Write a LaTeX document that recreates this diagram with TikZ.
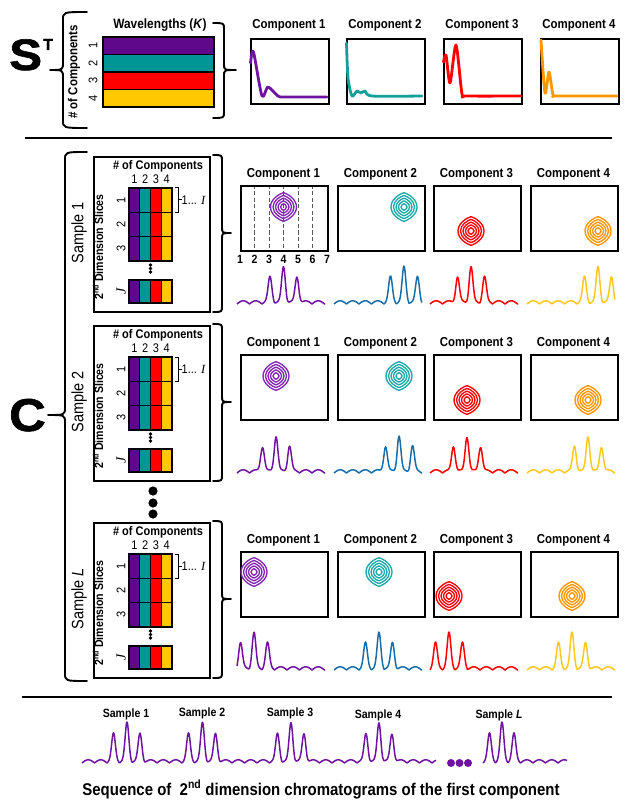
\documentclass[tikz,border=0pt]{standalone}
\usepackage{fontspec}
\setmainfont{Liberation Sans}[FakeStretch=0.88]
\newfontfamily\heavyfont{Liberation Sans Bold}[FakeBold=1.4]
\newfontfamily\seriffont{Liberation Serif}
\newcommand{\fs}[1]{\fontsize{#1}{#1}\selectfont}
\definecolor{cpurple}{RGB}{96,8,140}
\definecolor{cteal}{RGB}{0,150,150}
\definecolor{cred}{RGB}{255,0,0}
\definecolor{cyellow}{RGB}{255,200,0}
\definecolor{corange}{RGB}{255,150,0}
\definecolor{lpurple}{RGB}{110,20,160}
\definecolor{lblue}{RGB}{25,110,170}
\definecolor{lyellow}{RGB}{255,200,30}
\definecolor{kpurple}{RGB}{130,40,180}
\definecolor{kteal}{RGB}{30,170,170}
\definecolor{steal}{RGB}{20,160,150}

\newcommand\vbrace[7]{% xe, xb, xt, ytop, ybot, ymid, r
 \draw[braceline] ({#1},{#4}) .. controls ({#2},{#4}) .. ({#2},{#4+#7}) -- ({#2},{#6-#7}) .. controls ({#2},{#6}) .. ({#3},{#6}) .. controls ({#2},{#6}) .. ({#2},{#6+#7}) -- ({#2},{#5-#7}) .. controls ({#2},{#5}) .. ({#1},{#5});}

\newcommand\onion[3]{\begin{scope}[shift={(#2,#3)}]
 \foreach \rad in {13,10.5,8,5.5,3}{\draw[#1,line width=1.35pt] (0,{-1.1*\rad}) .. controls ({0.3*\rad},{-1.02*\rad}) and ({\rad},{-0.62*\rad}) .. (\rad,0) .. controls ({\rad},{0.62*\rad}) and ({0.3*\rad},{1.02*\rad}) .. (0,{1.1*\rad}) .. controls ({-0.3*\rad},{1.02*\rad}) and ({-\rad},{0.62*\rad}) .. ({-\rad},0) .. controls ({-\rad},{-0.62*\rad}) and ({-0.3*\rad},{-1.02*\rad}) .. cycle;}
\end{scope}}

\newcommand\chrom[5]{\draw[chromline,#1] plot[domain=#2:#3,samples=170] (\x,{#4-wg(\x,#2)-pk(\x,#5-13.5,25)-pk(\x,#5,35)-pk(\x,#5+13.5,25)});}

\newcommand\comprow[8]{%
 \foreach \ci/\lx/\cx/\cy/\kc/\lc in {1/240/#3/#7/kpurple/lpurple,2/337/#4/#7/kteal/lblue,3/433/#5/#8/cred/cred,4/530/#6/#8/corange/lyellow}{%
  \pgfmathsetmacro\xa{\lx-3}\pgfmathsetmacro\xb{\lx+85}\pgfmathsetmacro\xm{\lx+\cx}%
  \pgfmathsetmacro\yb{#2+29}\pgfmathsetmacro\yc{#2+29+\cy}\pgfmathsetmacro\ybase{#2+148}%
  \pgfmathsetmacro\xt{\lx+43.5}\pgfmathsetmacro\yt{#2+18}%
  \node[cbox] (#1c\ci) at (\lx,\yb) {};
  \node[ctitle] (#1t\ci) at (\xt,\yt) {Component \ci};
  \onion{\kc}{\xm}{\yc}
  \chrom{\lc}{\xa}{\xb}{\ybase}{\xm}
 }}

\newcommand\sampleblock[3]{%
 \node[sbox] (#1box) at (93,#2) {};
 \node[hdr] (#1hdr) at (158,{#2+10}) {\# of Components};
 \foreach \c/\col [count=\n] in {0/cpurple,1/cteal,2/cred,3/cyellow}{
   \node[numlab] (#1n\n) at ({134.4+10.75*\c},{#2+23.5}) {\n};
   \foreach \rw in {0,1,2}{\draw[cellline,fill=\col] ({129+10.75*\c},{#2+32+24.33*\rw}) rectangle ++(10.75,24.33);}
   \draw[cellline,fill=\col] ({129+10.75*\c},{#2+124}) rectangle ++(10.75,23);
 }
 \draw[line width=1.6pt] (129,{#2+32}) rectangle (172,{#2+105});
 \draw[line width=1.6pt] (129,{#2+124}) rectangle (172,{#2+147});
 \foreach \rw [count=\n] in {0,1,2}{\node[rowlab] (#1r\n) at (121,{#2+44+24.33*\rw}) {\n};}
 \foreach \dy in {109,112.5,116}{\fill (150.5,{#2+\dy}) circle[radius=1.9pt];}
 \node[rowlab,font=\fs{14}\seriffont\itshape] (#1J) at (121,{#2+135.5}) {J};
 \node[dimlab] (#1dim) at (98,{#2+91}) {2\textsuperscript{nd} Dimension Slices};
 \draw[line width=1pt] (175,{#2+32}) -- (178.5,{#2+32}) -- (178.5,{#2+56.3}) -- (175,{#2+56.3}) (178.5,{#2+44}) -- (182,{#2+44});
 \node[numlab,anchor=west] (#1rng) at (181.5,{#2+44}) {1... {\seriffont\itshape I}};
 \node[samplab] (#1lab) at (79,{#2+77}) {#3};
 \vbrace{213}{222}{231}{#2-1}{#2+156}{#2+77}{6}
}

\begin{document}
\begin{tikzpicture}[x=1pt,y=-1pt,
 declare function={pk(\a,\p,\h)=\h*exp(-pow(min(abs(\a-\p)/2.6,5),2)); wg(\a,\s)=3.2*abs(sin(14.4*(\a-\s)));},
 braceline/.style={line width=1.9pt, line cap=round, line join=round},
 sepline/.style={line width=2pt},
 cbox/.style={draw, line width=1.8pt, minimum width=87pt, minimum height=65pt, anchor=north west, inner sep=0},
 tbox/.style={draw, line width=1.8pt, minimum width=78pt, minimum height=65pt, anchor=north west, inner sep=0},
 sbox/.style={draw, line width=1.8pt, minimum width=116pt, minimum height=155pt, anchor=north west, inner sep=0},
 bar/.style={draw, line width=1.5pt, minimum width=111pt, minimum height=17.5pt, inner sep=0},
 ctitle/.style={font=\fs{13}\bfseries, inner sep=0},
 hdr/.style={font=\fs{12.5}\bfseries, inner sep=0},
 numlab/.style={font=\fs{12.5}, inner sep=0},
 rowlab/.style={font=\fs{12.5}, inner sep=0, rotate=90},
 dimlab/.style={font=\fs{12}\bfseries, inner sep=0, rotate=90},
 samplab/.style={font=\fs{16.5}, inner sep=0, rotate=90},
 blab/.style={font=\fs{12}\bfseries, inner sep=0},
 cellline/.style={draw=black, line width=1.1pt},
 chromline/.style={line width=1.5pt, line join=round},
 specline/.style={line width=2.8pt, line join=round, line cap=round},
 dashln/.style={draw=black!65, line width=1pt, dash pattern=on 4pt off 2.5pt},
]
\useasboundingbox (0,0) rectangle (629,810);

% ---------- S^T ----------
\node[font=\heavyfont\fs{44}, anchor=base west, inner sep=0, xscale=1.12] (Sbig) at (9,70) {S};
\node[font=\heavyfont\fs{16}, anchor=base west, inner sep=0] (Tsup) at (43,50) {T};
\vbrace{87}{63}{50}{12}{128}{70}{8}
\node[font=\fs{13}\bfseries, rotate=90, inner sep=0] (tcomp) at (74,72) {\# of Components};
\foreach \k/\col [count=\n] in {0/cpurple,1/cteal,2/cred,3/cyellow}{
  \node[bar,fill=\col] (bar\n) at (158.5,{45.75+17.5*\k}) {};
  \node[rowlab] (barn\n) at (93,{45.75+17.5*\k}) {\n};
}
\node[font=\fs{13.5}\bfseries, inner sep=0] (wav) at (160,25) {Wavelengths (\textit{K})};
\vbrace{213}{224}{236}{23}{118}{70}{6}

\foreach \lx [count=\n] in {250,346,443,540}{
  \node[tbox] (tb\n) at (\lx,38) {};
  \node[ctitle] (tt\n) at ({\lx+39},25) {Component \n};
}
\draw[specline,lpurple] plot[smooth,tension=0.45] coordinates {(250.5,63) (252,53) (254,54) (262,96) (268,87) (278,96) (285,97) (327,97)};
\draw[specline,steal] plot[smooth,tension=0.45] coordinates {(346.5,43) (348,78) (352,96) (357,91) (361,93) (365,91) (372,96) (422,96)};
\draw[specline,cred] plot[smooth,tension=0.45] coordinates {(443.5,62) (446,55) (450,83) (456,45) (462,94) (467,96) (521,96)};
\draw[specline,corange] plot[smooth,tension=0.45] coordinates {(541,40) (545,93) (549,72) (553,95) (557,96) (617,96)};

\coordinate (sepA1) at (25,138); \coordinate (sepA2) at (612,138);
\draw[sepline] (sepA1) -- (sepA2);

% ---------- C ----------
\node[font=\heavyfont\fs{46}, anchor=base west, inner sep=0, xscale=1.1] (Cbig) at (9,431) {C};
\vbrace{87}{65}{48}{152}{681}{415}{8}

\sampleblock{s1}{156}{Sample 1}
\sampleblock{s2}{325}{Sample 2}
\sampleblock{sL}{522}{Sample \textit{L}}

\foreach \k in {1,...,5}{\draw[dashln] ({240+14.5*\k},185) -- ({240+14.5*\k},250);}
\foreach \t [count=\k from 0] in {1,...,7}{\node[font=\fs{12}\bfseries, inner sep=0] (ax\t) at ({240+14.5*\k},259) {\t};}

\comprow{s1}{156}{43.5}{67}{38}{68}{22}{46}
\comprow{s2}{325}{36}{62}{34}{58}{22}{46}
\comprow{sL}{522}{14}{42}{16}{42}{21}{45}

\foreach \yy [count=\n] in {491,503,514}{\fill (153,\yy) circle[radius=4.6pt];}

% ---------- bottom ----------
\coordinate (sepB1) at (22,697); \coordinate (sepB2) at (612,697);
\draw[sepline] (sepB1) -- (sepB2);
\node[blab] (b1) at (126,714) {Sample 1};
\node[blab] (b2) at (202,713) {Sample 2};
\node[blab] (b3) at (290,713) {Sample 3};
\node[blab] (b4) at (378,715) {Sample 4};
\node[blab] (bL) at (499,715) {Sample \textit{L}};
\draw[chromline,lpurple] plot[domain=82:436, samples=720] (\x,{763-wg(\x,82)-pk(\x,113.5,27)-pk(\x,127,38)-pk(\x,140,27)-pk(\x,188.5,27)-pk(\x,202.5,38)-pk(\x,215.5,27)-pk(\x,277.5,27)-pk(\x,291,38)-pk(\x,304,27)-pk(\x,366,27)-pk(\x,379,38)-pk(\x,392,27)});
\foreach \xx in {451,459.5,468}{\fill[lpurple] (\xx,763) circle[radius=4pt];}
\draw[chromline,lpurple] plot[domain=483:567, samples=180] (\x,{763-wg(\x,483)-pk(\x,489.5,27)-pk(\x,502,38)-pk(\x,514,27)});
\node[font=\fs{17}\bfseries, inner sep=0, anchor=base] (seq) at (321,795) {Sequence of\ \ 2\textsuperscript{nd} dimension chromatograms of the first component};
\end{tikzpicture}
\end{document}
